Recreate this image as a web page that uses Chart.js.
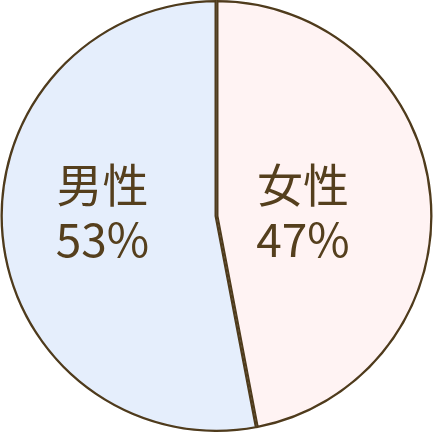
<!DOCTYPE html>
<html>
<head>
<meta charset="utf-8">
<script src="https://cdn.jsdelivr.net/npm/chart.js@4"></script>
<style>
html,body{margin:0;padding:0;background:#fff;}
#wrap{width:433px;height:432px;}
</style>
</head>
<body>
<div id="wrap"><canvas id="c" width="433" height="432"></canvas></div>
<script>
const categories = ['女性', '男性'];
const values = [47, 53];
const colors = ['#fff3f3', '#e5eefc'];

const labelPlugin = {
  id: 'sliceLabels',
  afterDatasetsDraw(chart) {
    const ctx = chart.ctx;
    const meta = chart.getDatasetMeta(0);
    const dxs = [86.5, -114];
    ctx.save();
    ctx.fillStyle = '#553f1d';
    ctx.font = '400 46px "Noto Sans CJK JP"';
    ctx.textAlign = 'center';
    ctx.textBaseline = 'middle';
    meta.data.forEach((arc, i) => {
      const x = arc.x + dxs[i];
      ctx.fillText(categories[i], x, arc.y - 31);
      ctx.fillText(values[i] + '%', x, arc.y + 24);
    });
    ctx.restore();
  }
};

new Chart(document.getElementById('c'), {
  type: 'pie',
  data: {
    labels: categories,
    datasets: [{
      data: values,
      backgroundColor: colors,
      borderColor: '#4f3b1c',
      borderWidth: 2,
      borderAlign: 'inner'
    }]
  },
  options: {
    responsive: false,
    animation: false,
    layout: { padding: 0 },
    plugins: { legend: { display: false }, tooltip: { enabled: false } }
  },
  plugins: [labelPlugin]
});
</script>
</body>
</html>
